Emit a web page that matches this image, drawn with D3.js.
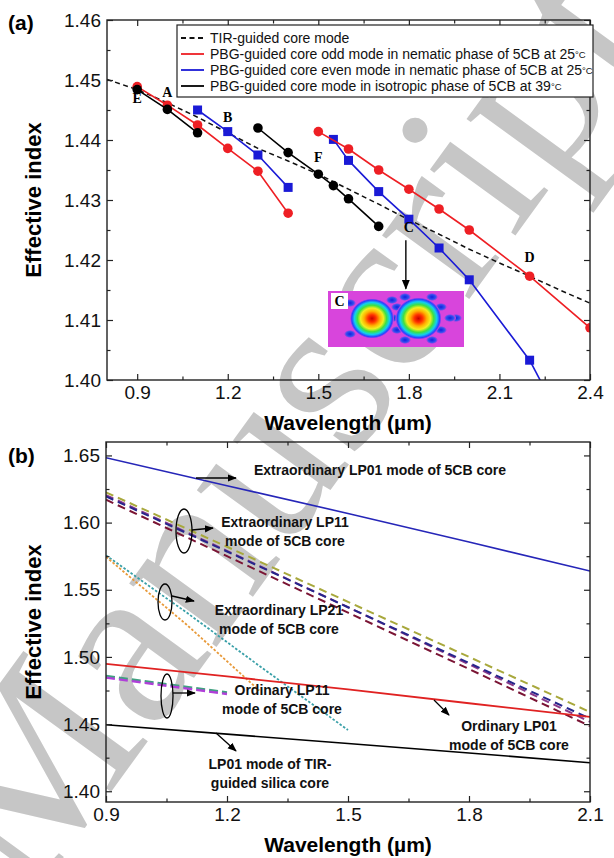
<!DOCTYPE html>
<html><head><meta charset="utf-8">
<script src="https://cdn.jsdelivr.net/npm/d3@7"></script>
<style>body{margin:0;background:#fff}svg{display:block}</style>
</head><body><svg id="c" width="614" height="858"></svg>
<script>
// ---------- Panel (a) data ----------
const tirLambda = [0.8,0.9,1.0,1.1,1.2,1.3,1.4,1.5,1.6,1.7,1.8,1.9,2.0,2.1,2.2,2.3,2.4];
const tirIndex  = [1.4501,1.4484,1.4462,1.4438,1.4412,1.4386,1.4365,1.4343,1.4318,1.4293,1.4267,1.4243,1.4218,1.4195,1.4173,1.4150,1.4128];
const odd1Lambda = [0.9,1.0,1.1,1.2,1.3,1.4];
const odd1Index  = [1.4489,1.4458,1.4425,1.4386,1.4348,1.4278];
const odd2Lambda = [1.5,1.6,1.7,1.8,1.9,2.0,2.2,2.4];
const odd2Index  = [1.4414,1.4385,1.4350,1.4318,1.4285,1.4250,1.4173,1.4087];
const even1Lambda = [1.1,1.2,1.3,1.4];
const even1Index  = [1.4450,1.4414,1.4375,1.4321];
const even2Lambda = [1.55,1.6,1.7,1.8,1.9,2.0,2.2];
const even2Index  = [1.4401,1.4366,1.4314,1.4268,1.4220,1.4167,1.4033];
const evenTailLambda = [2.2,2.4];
const evenTailIndex  = [1.4033,1.3842];
const iso1Lambda = [0.9,1.0,1.1];
const iso1Index  = [1.4484,1.4451,1.4412];
const iso2Lambda = [1.3,1.4,1.5,1.55,1.6,1.7];
const iso2Index  = [1.4420,1.4379,1.4343,1.4324,1.4302,1.4256];
const aXTicks = [0.9,1.2,1.5,1.8,2.1,2.4];
const aYTicks = [1.40,1.41,1.42,1.43,1.44,1.45,1.46];
const legendLabels = ["TIR-guided core mode",
  "PBG-guided core odd mode in nematic phase of 5CB at 25",
  "PBG-guided core even mode in nematic phase of 5CB at 25",
  "PBG-guided core mode in isotropic phase of 5CB at 39"];
const pointLetters = ["E","A","B","F","C","D"];
const pointLetterLambda = [0.9,1.0,1.2,1.5,1.8,2.2];
const pointLetterIndex  = [1.4462,1.4472,1.4430,1.4363,1.4247,1.4197];

// ---------- Panel (b) data ----------
const bLambda5 = [0.9,1.2,1.5,1.8,2.1];
const eLP01 = [1.6483,1.6275,1.6068,1.5855,1.5639];
const oLP01 = [1.4949,1.4855,1.4758,1.4655,1.4554];
const tirLP01 = [1.4495,1.4425,1.4355,1.4285,1.4212];
const eLP11a = [1.6225,1.5820,1.5410,1.5000,1.4590];
const eLP11b = [1.6205,1.5790,1.5370,1.4945,1.4517];
const eLP11c = [1.6195,1.5785,1.5370,1.4955,1.4541];
const eLP11d = [1.6170,1.5750,1.5330,1.4910,1.4485];
const eLP21aLambda = [0.9,1.1,1.3,1.5];
const eLP21a = [1.5756,1.5330,1.4890,1.4456];
const eLP21bLambda = [0.9,1.1,1.28];
const eLP21b = [1.5745,1.5240,1.4750];
const oLP11Lambda = [0.9,1.05,1.2];
const oLP11a = [1.4846,1.4785,1.4724];
const oLP11b = [1.4858,1.4797,1.4736];
const bXTicks = [0.9,1.2,1.5,1.8,2.1];
const bYTicks = [1.40,1.45,1.50,1.55,1.60,1.65];

const svg = d3.select("#c");
const defs = svg.append("defs");
defs.append("marker").attr("id","arr").attr("viewBox","0 0 10 10").attr("refX",9).attr("refY",5)
  .attr("markerWidth",7).attr("markerHeight",7).attr("orient","auto")
  .append("path").attr("d","M0,1 L10,5 L0,9 Z").attr("fill","#000");

// watermark
svg.append("text").attr("transform","translate(300,440) rotate(-54)")
  .attr("text-anchor","middle").attr("dominant-baseline","middle")
  .attr("font-family","Liberation Serif, Times New Roman, serif").attr("font-size",235)
  .attr("fill","#c6c6c6").text("Manuscript");

const FONT = "Liberation Sans, Arial, sans-serif";

function frame(g, x, y, xMajor, xMinor, yMajor, yMinor, xFmt, yFmt) {
  const [x0,x1] = x.range(), [y0,y1] = y.range();
  const mk = (axis, tr, vals, size, fmt) => {
    const a = axis.tickValues(vals).tickSize(size).tickSizeOuter(0).tickPadding(6);
    a.tickFormat(fmt || (() => ""));
    const gg = g.append("g").attr("transform", tr).call(a);
    gg.select(".domain").remove();
    gg.selectAll("line").attr("stroke","#222").attr("stroke-width",1.2);
    gg.selectAll("text").attr("font-family",FONT).attr("font-size",19).attr("fill","#111");
    return gg;
  };
  mk(d3.axisBottom(x), `translate(0,${y0})`, xMajor, -6, xFmt);
  mk(d3.axisBottom(x), `translate(0,${y0})`, xMinor, -3.5);
  mk(d3.axisTop(x), `translate(0,${y1})`, xMajor, -6);
  mk(d3.axisTop(x), `translate(0,${y1})`, xMinor, -3.5);
  mk(d3.axisLeft(y), `translate(${x0},0)`, yMajor, -6, yFmt);
  mk(d3.axisLeft(y), `translate(${x0},0)`, yMinor, -3.5);
  mk(d3.axisRight(y), `translate(${x1},0)`, yMajor, -6);
  mk(d3.axisRight(y), `translate(${x1},0)`, yMinor, -3.5);
  g.append("rect").attr("x",x0).attr("y",y1).attr("width",x1-x0).attr("height",y0-y1)
    .attr("fill","none").attr("stroke","#222").attr("stroke-width",1.4);
}

// ================= Panel (a) =================
const xa = d3.scaleLinear().domain([0.8,2.4]).range([107,590]);
const ya = d3.scaleLinear().domain([1.40,1.46]).range([380,20]);
const ga = svg.append("g");
defs.append("clipPath").attr("id","clipA").append("rect").attr("x",107).attr("y",20).attr("width",483).attr("height",360);
const pa = ga.append("g").attr("clip-path","url(#clipA)");
const lineA = d3.line().x(d=>xa(d[0])).y(d=>ya(d[1]));
const zip = (a,b) => a.map((v,i)=>[v,b[i]]);

pa.append("path").attr("d", lineA(zip(tirLambda,tirIndex))).attr("fill","none")
  .attr("stroke","#111").attr("stroke-width",1.5).attr("stroke-dasharray","5,3.5");

function series(L, N, color, shape, noMarker) {
  const d = zip(L,N);
  pa.append("path").attr("d", lineA(d)).attr("fill","none").attr("stroke",color).attr("stroke-width",1.6);
  if (noMarker) return;
  if (shape === "sq") {
    pa.selectAll(null).data(d).enter().append("rect")
      .attr("x",p=>xa(p[0])-4.5).attr("y",p=>ya(p[1])-4.5).attr("width",9).attr("height",9).attr("fill",color);
  } else {
    pa.selectAll(null).data(d).enter().append("circle")
      .attr("cx",p=>xa(p[0])).attr("cy",p=>ya(p[1])).attr("r",4.8).attr("fill",color);
  }
}
const RED = "#ee1f24", BLUE = "#1a1ad6", BLK = "#000";
series(evenTailLambda, evenTailIndex, BLUE, "sq", true);
series(even1Lambda, even1Index, BLUE, "sq");
series(even2Lambda, even2Index, BLUE, "sq");
series(odd1Lambda, odd1Index, RED, "ci");
series(odd2Lambda, odd2Index, RED, "ci");
series(iso1Lambda, iso1Index, BLK, "ci");
series(iso2Lambda, iso2Index, BLK, "ci");

// letters
pointLetters.forEach((t,i)=>{
  ga.append("text").attr("x",xa(pointLetterLambda[i])).attr("y",ya(pointLetterIndex[i]))
    .attr("text-anchor","middle").attr("font-family","Liberation Serif, Times New Roman, serif")
    .attr("font-weight","bold").attr("font-size",14).text(t);
});
// arrow from C to inset
ga.append("line").attr("x1",xa(1.79)).attr("y1",ya(1.4233)).attr("x2",xa(1.79)).attr("y2",ya(1.4152))
  .attr("stroke","#000").attr("stroke-width",1.4).attr("marker-end","url(#arr)");

// inset image C
(function(){
  const ix = 328, iy = 291, iw = 136, ih = 56;
  const gi = ga.append("g");
  gi.append("rect").attr("x",ix).attr("y",iy).attr("width",iw).attr("height",ih).attr("fill","#d845dc");
  const rg = defs.append("radialGradient").attr("id","blob");
  [[0,"#c80000"],[0.18,"#ff3000"],[0.36,"#ffb000"],[0.52,"#f0f020"],[0.66,"#40e040"],[0.8,"#10d0f0"],[0.92,"#2a40ff"],[1,"#d845dc"]]
    .forEach(s=>rg.append("stop").attr("offset",s[0]).attr("stop-color",s[1]));
  const rg2 = defs.append("radialGradient").attr("id","dot");
  [[0,"#1020e0"],[0.6,"#3050f0"],[1,"#d845dc"]].forEach(s=>rg2.append("stop").attr("offset",s[0]).attr("stop-color",s[1]));
  [[405,297],[432,297],[397,307],[441,307],[397,330],[441,330],[405,340],[432,340],[456,318],[450,318],[393,318],[350,303],[392,300],[350,334]]
    .forEach(p=>gi.append("ellipse").attr("cx",p[0]).attr("cy",p[1]).attr("rx",6).attr("ry",4).attr("fill","url(#dot)"));
  gi.append("ellipse").attr("cx",372).attr("cy",318.5).attr("rx",22).attr("ry",20).attr("fill","url(#blob)");
  gi.append("ellipse").attr("cx",418.5).attr("cy",318.5).attr("rx",23).attr("ry",21).attr("fill","url(#blob)");
  gi.append("rect").attr("x",331).attr("y",293).attr("width",17).attr("height",16).attr("fill","#fff");
  gi.append("text").attr("x",339.5).attr("y",306).attr("text-anchor","middle")
    .attr("font-family","Liberation Serif, serif").attr("font-weight","bold").attr("font-size",14).text("C");
})();

frame(ga, xa, ya, aXTicks, [1.05,1.35,1.65,1.95,2.25], aYTicks,
  [1.405,1.415,1.425,1.435,1.445,1.455], d3.format(".1f"), d3.format(".2f"));

// legend
(function(){
  const lx = 177, ly = 25, lw = 416, lh = 72;
  const gl = ga.append("g");
  gl.append("rect").attr("x",lx).attr("y",ly).attr("width",lw).attr("height",lh)
    .attr("fill","#fff").attr("stroke","#222").attr("stroke-width",1.2);
  const cols = ["#111",RED,BLUE,BLK], dash = ["5,3.5",null,null,null];
  legendLabels.forEach((t,i)=>{
    const yy = ly + 13 + i*16;
    gl.append("line").attr("x1",lx+4).attr("x2",lx+27).attr("y1",yy).attr("y2",yy)
      .attr("stroke",cols[i]).attr("stroke-width",1.8).attr("stroke-dasharray",dash[i]);
    const tx = gl.append("text").attr("x",lx+33).attr("y",yy+5).attr("font-family",FONT)
      .attr("font-size",14).attr("fill","#111").text(t);
    if (i>0) tx.append("tspan").attr("font-size",9.5).attr("dy",-1).text("°C");
  });
})();

ga.append("text").attr("x",348).attr("y",430).attr("text-anchor","middle").attr("font-family",FONT)
  .attr("font-weight","bold").attr("font-size",21).text("Wavelength (µm)");
ga.append("text").attr("transform","translate(41,200) rotate(-90)").attr("text-anchor","middle")
  .attr("font-family",FONT).attr("font-weight","bold").attr("font-size",22).text("Effective index");
ga.append("text").attr("x",8).attr("y",30).attr("font-family",FONT).attr("font-weight","bold")
  .attr("font-size",21).text("(a)");

// ================= Panel (b) =================
const xb = d3.scaleLinear().domain([0.9,2.1]).range([106,590]);
const yb = d3.scaleLinear().domain([1.392,1.66]).range([802,442]);
const gb = svg.append("g");
defs.append("clipPath").attr("id","clipB").append("rect").attr("x",106).attr("y",442).attr("width",484).attr("height",360);
const pb = gb.append("g").attr("clip-path","url(#clipB)");
const lineB = d3.line().x(d=>xb(d[0])).y(d=>yb(d[1]));
function bl(L,N,color,w,dash){
  pb.append("path").attr("d",lineB(zip(L,N))).attr("fill","none").attr("stroke",color)
    .attr("stroke-width",w).attr("stroke-dasharray",dash);
}
bl(bLambda5, eLP11a, "#a8a83c", 2, "8,5");
bl(bLambda5, eLP11b, "#8a3a8a", 2, "8,5");
bl(bLambda5, eLP11c, "#26268c", 2, "8,5");
bl(bLambda5, eLP11d, "#7a1434", 2, "8,5");
bl(eLP21aLambda, eLP21a, "#3aa0a8", 1.8, "2.5,1.8");
bl(eLP21bLambda, eLP21b, "#e89a3a", 1.8, "2.5,1.8");
bl(oLP11Lambda, oLP11b, "#40a080", 2.4, "9,4");
bl(oLP11Lambda, oLP11a, "#b040d8", 2.4, "9,4");
bl(bLambda5, eLP01, "#2626b8", 1.6, null);
bl(bLambda5, oLP01, "#e02222", 1.8, null);
bl(bLambda5, tirLP01, "#000", 1.6, null);

frame(gb, xb, yb, bXTicks, [1.05,1.35,1.65,1.95], bYTicks,
  [1.425,1.475,1.525,1.575,1.625], d3.format(".1f"), d3.format(".2f"));

function ann(lines, cx, cy){
  lines.forEach((t,i)=>gb.append("text").attr("x",cx).attr("y",cy+i*19).attr("text-anchor","middle")
    .attr("font-family",FONT).attr("font-weight","bold").attr("font-size",14).attr("fill","#111").text(t));
}
function arrow(x1,y1,x2,y2){
  gb.append("line").attr("x1",x1).attr("y1",y1).attr("x2",x2).attr("y2",y2).attr("stroke","#000")
    .attr("stroke-width",1.3).attr("marker-end","url(#arr)");
}
function ell(cx,cy,rx,ry){
  gb.append("ellipse").attr("cx",cx).attr("cy",cy).attr("rx",rx).attr("ry",ry).attr("fill","none")
    .attr("stroke","#000").attr("stroke-width",1.3);
}
ann(["Extraordinary LP01 mode of 5CB core"], 380, 475);
arrow(196,478,236,478);
ann(["Extraordinary LP11","mode of 5CB core"], 285, 527);
ell(184,531,8,22); arrow(192,530,213,528);
ann(["Extraordinary LP21","mode of 5CB core"], 279, 615);
ell(165,602,7,18); arrow(172,596,194,601);
ann(["Ordinary LP11","mode of 5CB core"], 282, 695);
ell(167,696,6,22); arrow(173,693,195,693);
ann(["Ordinary LP01","mode of 5CB core"], 509, 731);
arrow(434,700,449,715);
ann(["LP01 mode of TIR-","guided silica core"], 270, 769);
arrow(216,733,236,751);

gb.append("text").attr("x",348).attr("y",852).attr("text-anchor","middle").attr("font-family",FONT)
  .attr("font-weight","bold").attr("font-size",21).text("Wavelength (µm)");
gb.append("text").attr("transform","translate(41,622) rotate(-90)").attr("text-anchor","middle")
  .attr("font-family",FONT).attr("font-weight","bold").attr("font-size",22).text("Effective index");
gb.append("text").attr("x",8).attr("y",463).attr("font-family",FONT).attr("font-weight","bold")
  .attr("font-size",21).text("(b)");
</script></body></html>
